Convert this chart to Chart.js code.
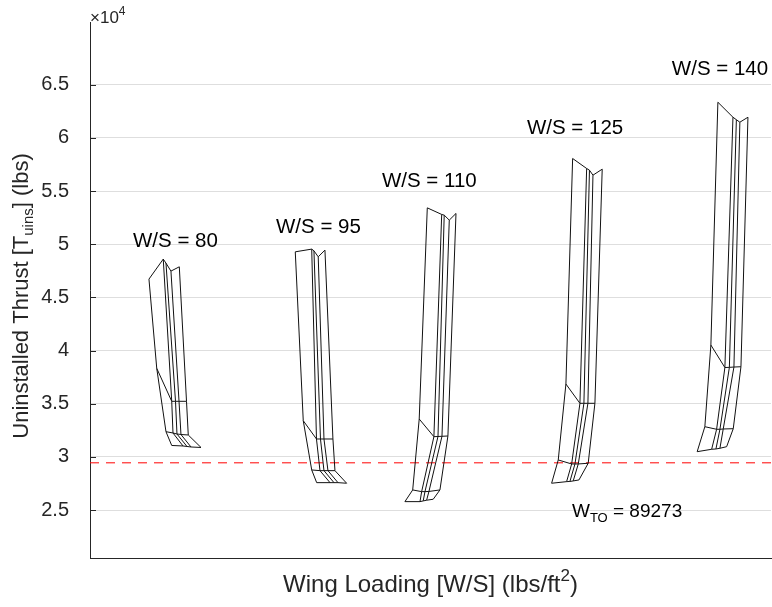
<!DOCTYPE html>
<html>
<head>
<meta charset="utf-8">
<script src="https://cdn.jsdelivr.net/npm/chart.js@4.4.1/dist/chart.umd.min.js"></script>
<style>
  html, body { margin: 0; padding: 0; background: #ffffff; }
  #wrap { width: 772px; height: 607px; }
</style>
</head>
<body>
<div id="wrap"><canvas id="c" width="772" height="607"></canvas></div>
<script>
// ---- data (x: carpet offset axis, T: thrust in lbs) ----
const wingLoadings = [80, 95, 110, 125, 140];

const ws80X = [[80.06,81.53,81.81,82.32,83.18],[80.86,82.40,82.79,83.15,83.92],[81.81,82.53,82.94,83.35,84.10],[82.40,83.56,83.97,84.38,85.41]];
const ws80T = [[46725,48604,48228,47477,47881],[38334,35234,35234,35234,35234],[32377,32255,32161,32114,32067],[31081,31034,30987,30940,30893]];

const ws95X = [[95.10,96.79,97.02,97.46,98.15],[95.92,97.28,97.69,98.05,98.97],[96.79,97.64,98.05,98.46,99.18],[97.30,98.67,99.08,99.49,100.38]];
const ws95T = [[49290,49544,49384,48820,49450],[33411,31691,31691,31691,31691],[28779,28713,28713,28713,28713],[27585,27585,27585,27585,27529]];

const ws110X = [[108.67,110.15,110.41,110.93,111.62],[107.84,109.35,109.77,110.18,110.79],[107.17,108.09,108.43,108.84,109.97],[106.37,107.92,108.25,108.60,109.28]];
const ws110T = [[53424,52804,52738,52269,52898],[33570,31907,31926,31945,31973],[26899,26740,26740,26758,26899],[25800,25800,25866,25932,26025]];

const ws125X = [[123.61,125.05,125.34,125.70,126.65],[122.92,124.36,124.77,125.18,125.90],[122.13,123.51,123.85,124.19,125.21],[121.45,122.99,123.33,123.67,124.26]];
const ws125T = [[58066,57126,56967,56497,57060],[36859,35046,35046,35046,35046],[29718,29342,29342,29342,29408],[27529,27679,27698,27745,27839]];

const ws140X = [[138.54,140.09,140.44,140.80,141.63],[137.82,139.26,139.72,140.19,140.91],[137.20,138.41,138.75,139.09,140.12],[136.41,137.90,138.34,138.75,139.44]];
const ws140T = [[63356,61946,61711,61477,61946],[40524,38409,38428,38456,38485],[32847,32603,32603,32631,32659],[30498,30723,30752,30817,30968]];

const takeoffWeight = 89273;
const thrustLine = 29450;

const yTicks = [25000, 30000, 35000, 40000, 45000, 50000, 55000, 60000, 65000];
const xRange = [74, 144];
const yRange = [20500, 70900];

// label anchors (data units): left edge / vertical middle of each "W/S = .." text
const labelX = [78.42, 93.12, 104.01, 118.91, 133.81];
const labelT = [50295, 51611, 55933, 60913, 66456];
const wtoLabelX = 123.54;
const wtoLabelT = 24832;

// ---- build datasets ----
const carpets = [[ws80X, ws80T], [ws95X, ws95T], [ws110X, ws110T], [ws125X, ws125T], [ws140X, ws140T]];
const datasets = [];
const lineStyle = { showLine: true, borderColor: '#111111', borderWidth: 1, pointRadius: 0, fill: false, tension: 0 };
carpets.forEach(([X, T]) => {
  for (let r = 0; r < X.length; r++) {
    datasets.push(Object.assign({ data: X[r].map((xv, j) => ({ x: xv, y: T[r][j] })) }, lineStyle));
  }
  for (let j = 0; j < X[0].length; j++) {
    datasets.push(Object.assign({ data: X.map((row, r) => ({ x: row[j], y: T[r][j] })) }, lineStyle));
  }
});
datasets.push({
  data: [{ x: xRange[0], y: thrustLine }, { x: xRange[1], y: thrustLine }],
  showLine: true, borderColor: '#ff0000', borderWidth: 1, borderDash: [9, 7], pointRadius: 0, fill: false
});

const FONT = '"Liberation Sans", Arial, Helvetica, sans-serif';

function drawRich(ctx, parts, x, y, size, align) {
  const widths = parts.map(p => {
    ctx.font = (p.mode === 'n' ? size : Math.round(size * 0.7)) + 'px ' + FONT;
    return ctx.measureText(p.t).width;
  });
  const total = widths.reduce((a, b) => a + b, 0);
  let cx = align === 'center' ? x - total / 2 : x;
  ctx.textAlign = 'left';
  ctx.textBaseline = 'middle';
  parts.forEach((p, i) => {
    let dy = 0;
    if (p.mode === 'sub') dy = size * 0.32;
    if (p.mode === 'sup') dy = -size * 0.38;
    ctx.font = (p.mode === 'n' ? size : Math.round(size * 0.7)) + 'px ' + FONT;
    ctx.fillText(p.t, cx, y + dy);
    cx += widths[i];
  });
}

const annot = {
  id: 'annot',
  afterDraw(chart) {
    const { ctx, chartArea: ca, scales: { x, y } } = chart;
    ctx.save();
    ctx.strokeStyle = '#262626';
    ctx.lineWidth = 1;
    yTicks.forEach(v => {
      const py = Math.round(y.getPixelForValue(v)) + 0.5;
      ctx.beginPath(); ctx.moveTo(ca.left, py); ctx.lineTo(ca.left + 6, py); ctx.stroke();
    });
    ctx.fillStyle = '#000000';
    ctx.font = '20.5px ' + FONT;
    ctx.textAlign = 'left';
    ctx.textBaseline = 'middle';
    wingLoadings.forEach((ws, i) => {
      ctx.fillText('W/S = ' + ws, x.getPixelForValue(labelX[i]), y.getPixelForValue(labelT[i]));
    });
    drawRich(ctx, [{ t: 'W', mode: 'n' }, { t: 'TO', mode: 'sub' }, { t: ' = ' + takeoffWeight, mode: 'n' }],
      x.getPixelForValue(wtoLabelX), y.getPixelForValue(wtoLabelT), 19, 'left');
    ctx.fillStyle = '#262626';
    drawRich(ctx, [{ t: 'Wing Loading [W/S] (lbs/ft', mode: 'n' }, { t: '2', mode: 'sup' }, { t: ')', mode: 'n' }],
      (ca.left + ca.right) / 2, 585, 24, 'center');
    ctx.save();
    ctx.translate(22, 296);
    ctx.rotate(-Math.PI / 2);
    drawRich(ctx, [{ t: 'Uninstalled Thrust [T', mode: 'n' }, { t: 'uins', mode: 'sub' }, { t: '] (lbs)', mode: 'n' }], 0, 0, 22, 'center');
    ctx.restore();
    drawRich(ctx, [{ t: '\u00d710', mode: 'n' }, { t: '4', mode: 'sup' }], ca.left, 18, 17, 'left');
    ctx.restore();
  }
};

new Chart(document.getElementById('c'), {
  type: 'scatter',
  data: { datasets },
  options: {
    responsive: false,
    animation: false,
    events: [],
    layout: { padding: { top: 22, right: 1, left: 0, bottom: 0 } },
    plugins: { legend: { display: false }, tooltip: { enabled: false } },
    scales: {
      x: {
        type: 'linear', min: xRange[0], max: xRange[1],
        ticks: { display: false },
        grid: { display: false, drawTicks: false },
        border: { display: true, color: '#262626', width: 1 },
        afterFit(s) { s.height = 49; s.paddingLeft = 0; s.paddingRight = 0; }
      },
      y: {
        type: 'linear', min: yRange[0], max: yRange[1],
        afterBuildTicks(s) { s.ticks = yTicks.map(v => ({ value: v })); },
        ticks: {
          color: '#262626', font: { family: FONT, size: 20 }, padding: 21,
          callback: v => String(v / 10000)
        },
        grid: { color: '#dedede', lineWidth: 1, drawTicks: false },
        border: { display: true, color: '#262626', width: 1 },
        afterFit(s) { s.width = 90; s.paddingTop = 0; s.paddingBottom = 0; }
      }
    }
  },
  plugins: [annot]
});
</script>
</body>
</html>
